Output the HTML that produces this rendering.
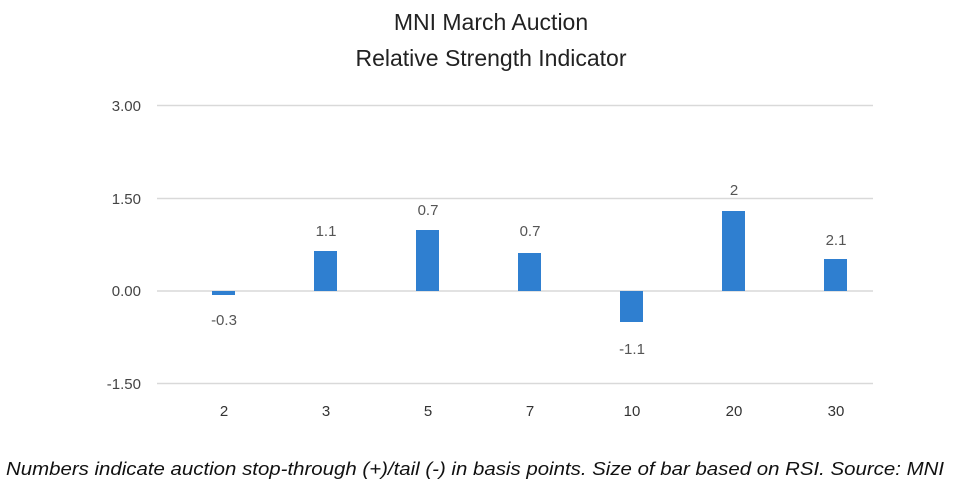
<!DOCTYPE html>
<html><head><meta charset="utf-8"><style>
body{margin:0;background:#fff;}
svg{display:block;font-family:"Liberation Sans",sans-serif;}
</style></head><body>
<svg width="980" height="486" viewBox="0 0 980 486" xmlns="http://www.w3.org/2000/svg">
<rect width="980" height="486" fill="#fff"/>
<text x="491" y="30" font-size="23" fill="#222" text-anchor="middle">MNI March Auction</text>
<text x="491" y="66" font-size="23" fill="#222" text-anchor="middle">Relative Strength Indicator</text>
<g stroke="#d9d9d9" stroke-width="1.5">
<line x1="157" x2="873" y1="105.5" y2="105.5"/>
<line x1="157" x2="873" y1="198.5" y2="198.5"/>
<line x1="157" x2="873" y1="291" y2="291"/>
<line x1="157" x2="873" y1="383.5" y2="383.5"/>
</g>
<g font-size="15" fill="#444" text-anchor="end">
<text x="141" y="111">3.00</text>
<text x="141" y="204">1.50</text>
<text x="141" y="296">0.00</text>
<text x="141" y="389">-1.50</text>
</g>
<g fill="#2f7fd0">
<rect x="212" y="291" width="23" height="4"/>
<rect x="314" y="251" width="23" height="40"/>
<rect x="416" y="230" width="23" height="61"/>
<rect x="518" y="253" width="23" height="38"/>
<rect x="620" y="291" width="23" height="31"/>
<rect x="722" y="211" width="23" height="80"/>
<rect x="824" y="259" width="23" height="32"/>
</g>
<g font-size="15" fill="#555" text-anchor="middle">
<text x="224" y="325">-0.3</text>
<text x="326" y="236">1.1</text>
<text x="428" y="215">0.7</text>
<text x="530" y="236">0.7</text>
<text x="632" y="354">-1.1</text>
<text x="734" y="195">2</text>
<text x="836" y="245">2.1</text>
</g>
<g font-size="15" fill="#333" text-anchor="middle">
<text x="224" y="416">2</text>
<text x="326" y="416">3</text>
<text x="428" y="416">5</text>
<text x="530" y="416">7</text>
<text x="632" y="416">10</text>
<text x="734" y="416">20</text>
<text x="836" y="416">30</text>
</g>
<text x="6" y="475" font-size="18.5" font-style="italic" fill="#111" textLength="938" lengthAdjust="spacingAndGlyphs">Numbers indicate auction stop-through (+)/tail (-) in basis points. Size of bar based on RSI. Source: MNI</text>
</svg>
</body></html>
